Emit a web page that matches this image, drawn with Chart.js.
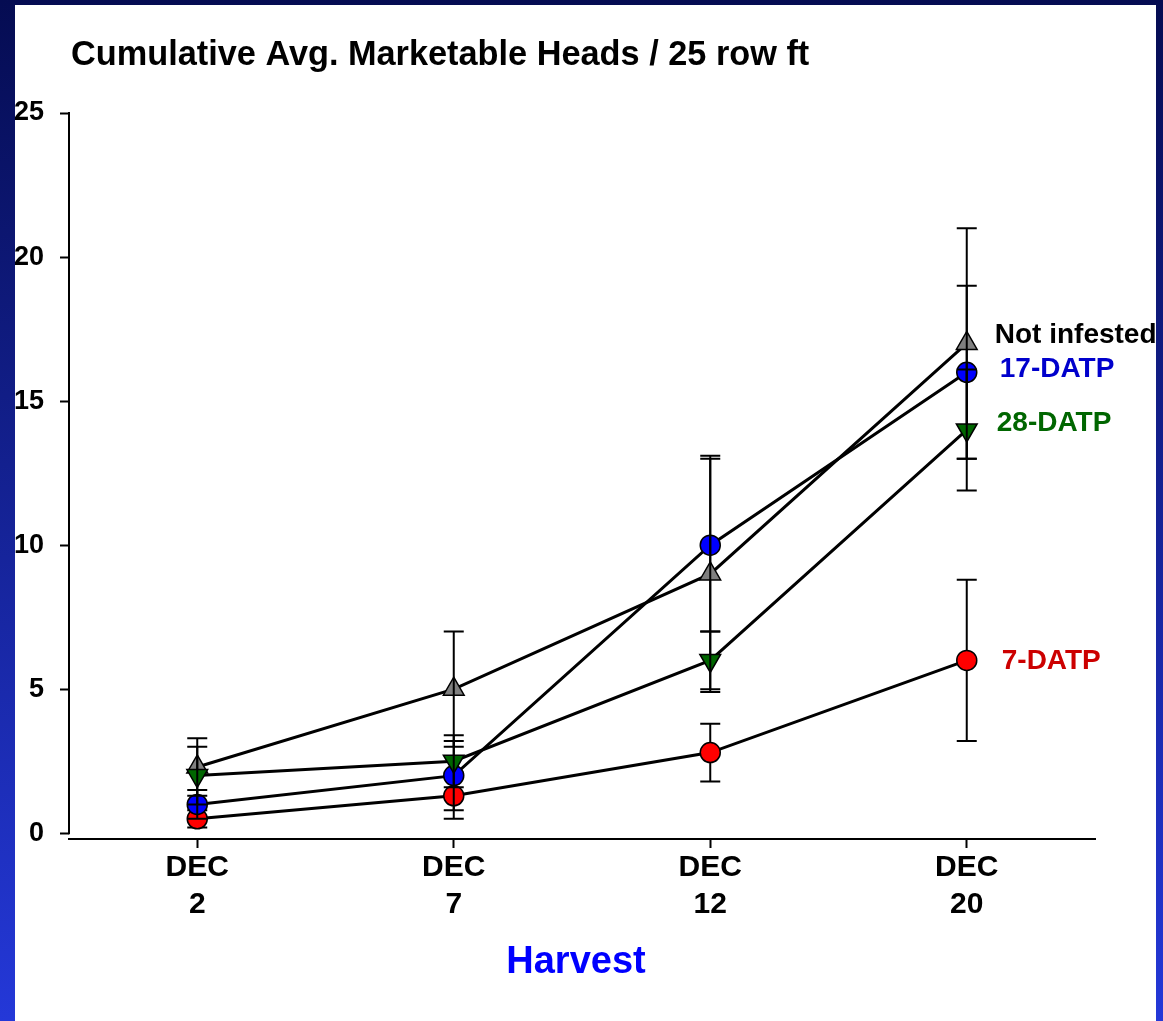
<!DOCTYPE html>
<html>
<head>
<meta charset="utf-8">
<script src="https://cdn.jsdelivr.net/npm/chart.js@4.4.1/dist/chart.umd.min.js"></script>
<style>
  html, body { margin: 0; padding: 0; }
  body {
    width: 1163px; height: 1021px; overflow: hidden; position: relative;
    background: linear-gradient(to bottom, #050c52 0%, #2438d8 100%);
  }
  #panel { position: absolute; left: 15px; top: 5px; width: 1141px; height: 1016px; background: #fff; }
  canvas { display: block; }
</style>
</head>
<body>
<div id="panel"><canvas id="chart" width="1141" height="1016"></canvas></div>
<script>
// Harvest dates (x categories) and y ticks
const harvestLabels = [["DEC", "2"], ["DEC", "7"], ["DEC", "12"], ["DEC", "20"]];
const yTicks = [0, 5, 10, 15, 20, 25];

// Cumulative avg. marketable heads per 25 row ft, with error (+/-)
const notInfested    = [2.3, 5.0, 9.0, 17.0];
const notInfestedErr = [1.0, 2.0, 4.1, 4.0];
const datp17         = [1.0, 2.0, 10.0, 16.0];
const datp17Err      = [0.5, 1.2, 3.0, 3.0];
const datp28         = [2.0, 2.5, 6.0, 14.0];
const datp28Err      = [1.0, 0.9, 1.0, 2.1];
const datp7          = [0.5, 1.3, 2.8, 6.0];
const datp7Err       = [0.3, 0.8, 1.0, 2.8];

const FONT = "'Liberation Sans', Arial, sans-serif";

function drawErrorBars(chart, i) {
    const ds = chart.data.datasets[i];
    const meta = chart.getDatasetMeta(i);
    const yScale = chart.scales.y;
    const ctx = chart.ctx;
    ctx.save();
    ctx.strokeStyle = "#000";
    ctx.lineWidth = 2;
    meta.data.forEach((pt, j) => {
        const v = ds.data[j], e = ds.errors[j];
        const top = yScale.getPixelForValue(v + e);
        const bot = yScale.getPixelForValue(v - e);
        ctx.beginPath();
        ctx.moveTo(pt.x, top); ctx.lineTo(pt.x, bot);
        ctx.moveTo(pt.x - 10, top); ctx.lineTo(pt.x + 10, top);
        ctx.moveTo(pt.x - 10, bot); ctx.lineTo(pt.x + 10, bot);
        ctx.stroke();
    });
    ctx.restore();
}

// error bars: some series draw them over their symbols, red draws them behind
const errorBarPlugin = {
    id: "errorBars",
    beforeDatasetDraw(chart, args) {
        if (chart.data.datasets[args.index].barsBehind) drawErrorBars(chart, args.index);
    },
    afterDatasetDraw(chart, args) {
        if (!chart.data.datasets[args.index].barsBehind) drawErrorBars(chart, args.index);
    }
};

// offset y axis line, title, axis title and series labels
const annotatePlugin = {
    id: "annotate",
    beforeDatasetsDraw(chart) {
        const ctx = chart.ctx, y = chart.scales.y, area = chart.chartArea;
        ctx.save();
        ctx.strokeStyle = "#000";
        ctx.lineWidth = 2;
        ctx.beginPath();
        ctx.moveTo(area.left, y.getPixelForValue(yTicks[yTicks.length - 1]) - 1);
        ctx.lineTo(area.left, y.getPixelForValue(0) + 1);
        ctx.stroke();
        ctx.restore();
    },
    afterDraw(chart) {
        const ctx = chart.ctx, area = chart.chartArea;
        ctx.save();
        ctx.textBaseline = "alphabetic";

        ctx.fillStyle = "#000";
        ctx.textAlign = "left";
        ctx.font = "bold 34.3px " + FONT;
        ctx.fillText("Cumulative Avg. Marketable Heads / 25 row ft", 56, 60);

        ctx.fillStyle = "#0000ff";
        ctx.textAlign = "center";
        ctx.font = "bold 38px " + FONT;
        ctx.fillText("Harvest", (area.left + area.right) / 2 - 6, 968);

        ctx.textAlign = "left";
        ctx.font = "bold 28px " + FONT;
        chart.data.datasets.forEach((ds, i) => {
            const meta = chart.getDatasetMeta(i);
            const last = meta.data[meta.data.length - 1];
            ctx.fillStyle = ds.endLabel.color;
            ctx.fillText(ds.label, last.x + ds.endLabel.dx, last.y + ds.endLabel.dy);
        });
        ctx.restore();
    }
};

function series(label, data, errors, color, style, extra) {
    const r = style === "circle" ? 10 : 12;
    return Object.assign({
        label: label,
        data: data,
        errors: errors,
        borderColor: "#000",
        borderWidth: 3,
        tension: 0,
        pointStyle: style,
        pointRadius: r,
        pointHoverRadius: r,
        pointBackgroundColor: color,
        pointBorderColor: "#000",
        pointBorderWidth: 1.5,
        clip: false
    }, extra);
}

new Chart(document.getElementById("chart"), {
    type: "line",
    data: {
        labels: harvestLabels,
        datasets: [
            // index 0 is drawn last (on top)
            series("28-DATP", datp28, datp28Err, "#006600", "triangle",
                { pointRotation: 180, endLabel: { color: "#006600", dx: 30, dy: 1 } }),
            series("Not infested", notInfested, notInfestedErr, "#808080", "triangle",
                { endLabel: { color: "#000", dx: 28, dy: 0 } }),
            series("17-DATP", datp17, datp17Err, "#0000ff", "circle",
                { endLabel: { color: "#0000cc", dx: 33, dy: 5 } }),
            series("7-DATP", datp7, datp7Err, "#ff0000", "circle",
                { barsBehind: true, endLabel: { color: "#cc0000", dx: 35, dy: 9 } })
        ]
    },
    options: {
        responsive: false,
        animation: false,
        events: [],
        layout: { padding: { left: 0, top: 108, right: 61, bottom: 0 } },
        plugins: {
            legend: { display: false },
            tooltip: { enabled: false },
            title: { display: false }
        },
        scales: {
            x: {
                type: "category",
                offset: true,
                afterFit: s => { s.height = 182; },
                border: { display: true, color: "#000", width: 2 },
                grid: {
                    drawOnChartArea: false,
                    drawTicks: true,
                    tickLength: 9,
                    tickWidth: 2,
                    tickColor: "#000",
                    offset: false
                },
                ticks: {
                    color: "#000",
                    padding: 1,
                    maxRotation: 0,
                    font: { family: FONT, size: 30, weight: "bold", lineHeight: 1.23 }
                }
            },
            y: {
                min: -0.2,
                max: 25,
                afterFit: s => { s.width = 54; },
                afterBuildTicks: s => { s.ticks = yTicks.map(v => ({ value: v })); },
                border: { display: false },
                grid: {
                    drawOnChartArea: false,
                    drawTicks: true,
                    tickLength: 9,
                    tickWidth: 2,
                    tickColor: "#000"
                },
                ticks: {
                    color: "#000",
                    padding: 16,
                    font: { family: FONT, size: 27, weight: "bold" }
                }
            }
        }
    },
    plugins: [errorBarPlugin, annotatePlugin]
});
</script>
</body>
</html>
